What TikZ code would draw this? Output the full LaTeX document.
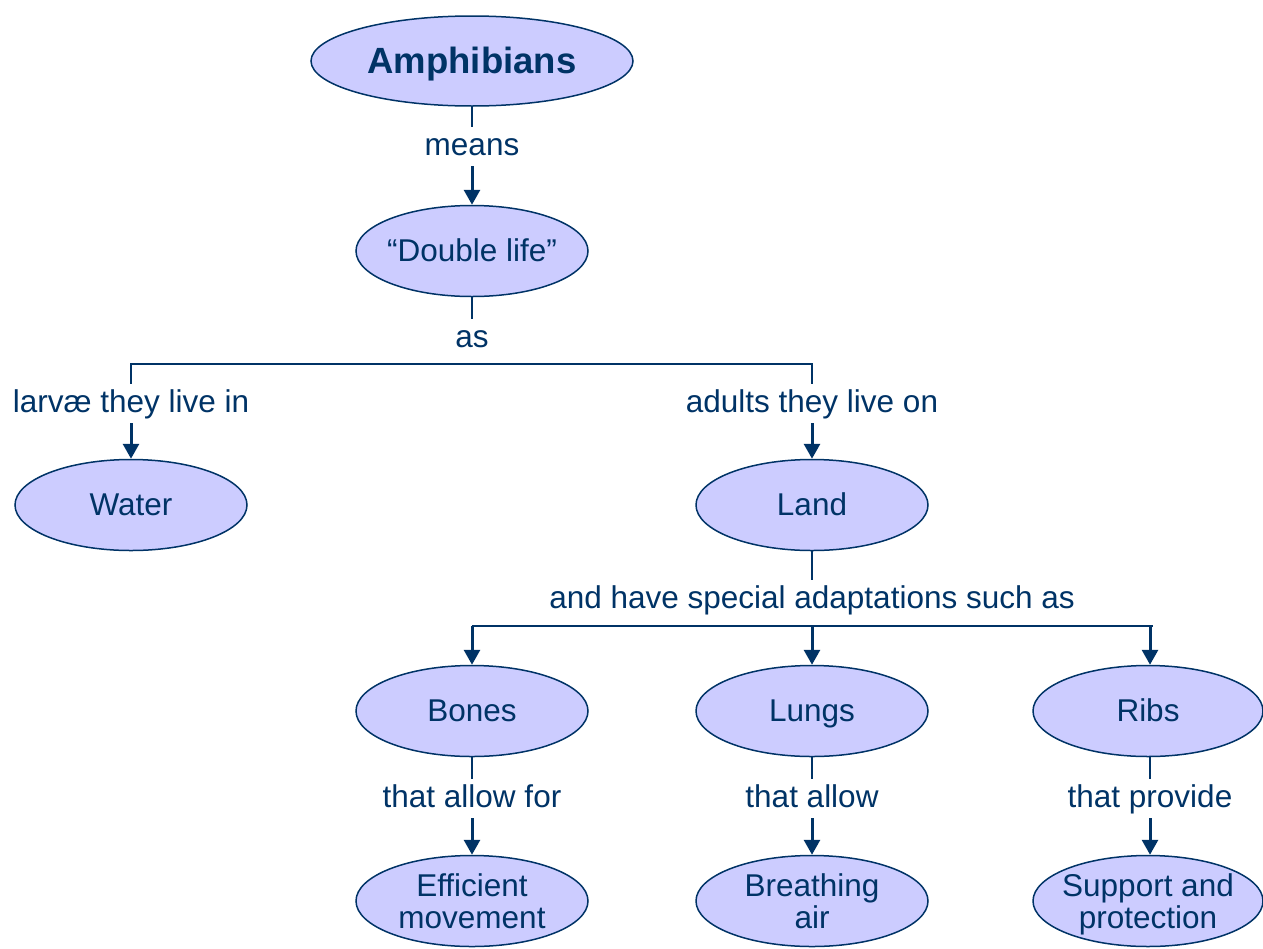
\documentclass[tikz,border=0pt]{standalone}
\usepackage{fontspec}
\setmainfont{Liberation Sans}
\usetikzlibrary{shapes.geometric,arrows.meta}
\definecolor{ink}{HTML}{003366}
\definecolor{bubble}{HTML}{CCCCFF}
\begin{document}
\begin{tikzpicture}[x=1pt,y=-1pt,
  concept/.style={ellipse,draw=ink,line width=1.5pt,fill=bubble,text=ink,
    minimum width=232pt,minimum height=91pt,inner xsep=-20pt,inner ysep=0pt,align=center,
    font=\fontsize{31.5}{31.5}\selectfont},
  oneline/.style={text height=22pt,text depth=2pt},
  twoline/.style={text depth=0pt},
  linklabel/.style={anchor=base,text=ink,font=\fontsize{31.5}{31.5}\selectfont,
    text height=23pt,text depth=6pt,inner ysep=5pt,inner xsep=2pt},
  thinline/.style={draw=ink,line width=1.3pt},
  busline/.style={draw=ink,line width=1.6pt,line join=miter},
  arrowline/.style={draw=ink,line width=3pt,-{Triangle[width=16pt,length=15pt]}}]
\useasboundingbox (0,0) rectangle (1263,948);

% concepts
\node[concept,minimum width=322pt,minimum height=90pt,text height=26pt,text depth=2pt,
  font=\fontsize{36.5}{36.5}\selectfont\bfseries] (amph) at (472,61) {Amphibians};
\node[concept,oneline] (double) at (472,251) {“Double life”};
\node[concept,oneline] (water) at (131,505) {Water};
\node[concept,oneline] (land) at (812,505) {Land};
\node[concept,oneline] (bones) at (472,711) {Bones};
\node[concept,oneline] (lungs) at (812,711) {Lungs};
\node[concept,oneline,minimum width=230pt] (ribs) at (1148,711) {Ribs};
\node[concept,twoline] (move) at (472,901) {Efficient\\movement};
\node[concept,twoline] (air) at (812,901) {Breathing\\air};
\node[concept,twoline,minimum width=230pt] (support) at (1148,901) {Support and\\protection};

% link labels
\node[linklabel] (means) at (472,155) {means};
\node[linklabel] (as) at (472,347) {as};
\node[linklabel] (larvae) at (131,412) {larvæ they live in};
\node[linklabel] (adults) at (812,412) {adults they live on};
\node[linklabel] (adapt) at (812,608) {and have special adaptations such as};
\node[linklabel] (allowfor) at (472,807) {that allow for};
\node[linklabel] (allow) at (812,807) {that allow};
\node[linklabel] (provide) at (1150,807) {that provide};

% connectors
\draw[thinline] (amph) -- (means);
\draw[arrowline] (means) -- (double);

\draw[thinline] (double) -- (as);
\coordinate (busL) at (131,364);
\coordinate (busR) at (812,364);
\draw[busline] (larvae.north) -- (busL) -- (busR) -- (adults.north);
\draw[arrowline] (larvae) -- (water);
\draw[arrowline] (adults) -- (land);

\draw[thinline] (land) -- (adapt);
\coordinate (b1) at (472,626);
\coordinate (b2) at (812,626);
\coordinate (b3) at (1150,626);
\coordinate (b3end) at (1153,626);
\draw[busline] (b1) -- (b3end);
\draw[arrowline] (b1) -- (bones);
\draw[arrowline] (b2) -- (lungs);
\draw[arrowline] (b3) -- (ribs.north -| b3);

\draw[thinline] (bones) -- (allowfor);
\draw[arrowline] (allowfor) -- (move);
\draw[thinline] (lungs) -- (allow);
\draw[arrowline] (allow) -- (air);
\draw[thinline] (ribs.south -| provide) -- (provide);
\draw[arrowline] (provide) -- (support.north -| provide);
\end{tikzpicture}
\end{document}
